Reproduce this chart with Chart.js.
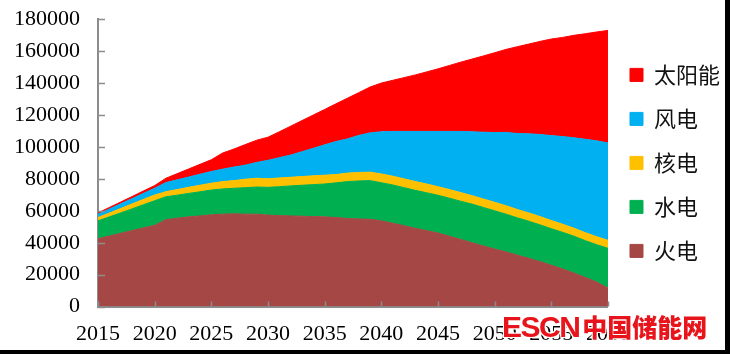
<!DOCTYPE html>
<html>
<head>
<meta charset="utf-8">
<title>发电量结构</title>
<script src="https://cdn.jsdelivr.net/npm/chart.js@4.4.1/dist/chart.umd.min.js"></script>
<style>
  html, body { margin: 0; padding: 0; background: #000; overflow: hidden; }
  #page { position: relative; width: 730px; height: 354px; overflow: hidden; background: #fff; }
  #wrap { position: absolute; left: -4px; top: -12px; width: 734px; height: 373px; }
  #edgeR { position: absolute; left: 725px; top: 0; width: 5px; height: 354px; background: #000; }
  #edgeB { position: absolute; left: 0; top: 350px; width: 730px; height: 4px; background: #000; }
  #mark {
    position: absolute; left: 502px; top: 308px; color: #e8141b; white-space: nowrap;
    text-shadow: 1px 1px 0 #fff, -1px -1px 0 #fff, 1px -1px 0 #fff, -1px 1px 0 #fff;
  }
  #mark .en { font: bold 30px "Liberation Sans", Arial, sans-serif; letter-spacing: -1.5px; }
  #mark .cn { font: 900 25px "Noto Sans CJK SC", sans-serif; margin-left: 3px; }
</style>
</head>
<body>
<div id="page">
  <div id="wrap"><canvas id="mixChart"></canvas></div>
  <div id="mark"><span class="en">ESCN</span><span class="cn">中国储能网</span></div>
  <div id="edgeR"></div>
  <div id="edgeB"></div>
</div>
<script>
const years = [
  2015, 2016, 2017, 2018, 2019, 2020, 2021, 2022, 2023, 2024,
  2025, 2026, 2027, 2028, 2029, 2030, 2031, 2032, 2033, 2034,
  2035, 2036, 2037, 2038, 2039, 2040, 2041, 2042, 2043, 2044,
  2045, 2046, 2047, 2048, 2049, 2050, 2051, 2052, 2053, 2054,
  2055, 2056, 2057, 2058, 2059, 2060
];

// 火电
const thermal = [
  42500, 44200, 45900, 47600, 49300, 50900, 54500, 55400, 56200, 56800,
  57500, 57900, 58100, 57900, 57900, 57300, 57000, 56800, 56600, 56400,
  56200, 55800, 55200, 54900, 54700, 53700, 52200, 50700, 49000, 47600,
  46100, 44100, 42100, 40000, 38000, 36000, 34300, 32200, 30300, 28200,
  25900, 23600, 21000, 18300, 15400, 11600
];
// 水电
const hydro = [
  11200, 12000, 12800, 13600, 14500, 15400, 14300, 14400, 14700, 15100,
  15500, 15800, 16000, 16600, 17000, 17400, 18100, 18800, 19400, 20000,
  20600, 21700, 23100, 23800, 24200, 23900, 24000, 23800, 23800, 23700,
  23600, 23800, 23900, 24200, 24100, 24000, 23600, 23400, 23200, 23000,
  22900, 22900, 23100, 23000, 23400, 24900
];
// 核电
const nuclear = [
  2100, 2400, 2700, 3100, 3300, 3600, 3200, 3500, 3800, 4100,
  4300, 4600, 4800, 5300, 5500, 5300, 5500, 5400, 5500, 5500,
  5500, 5200, 5300, 5300, 5300, 5500, 5500, 5500, 5500, 5500,
  5400, 5400, 5400, 5300, 5300, 5300, 5300, 5200, 5200, 5200,
  5100, 5100, 5000, 5000, 5000, 5000
];
// 风电
const wind = [
  2100, 2500, 3000, 3300, 3800, 4200, 5700, 6100, 6400, 6900,
  7300, 7800, 8500, 8800, 9900, 11600, 12700, 13900, 15500, 17200,
  19000, 20700, 21400, 23200, 24600, 26400, 28000, 29700, 31400, 32900,
  34600, 36400, 38300, 40000, 41800, 43700, 45900, 47600, 49500, 51400,
  53200, 54900, 56600, 58500, 60000, 61000
];
// 太阳能
const solar = [
  800, 1000, 1100, 1300, 1500, 1700, 2700, 3900, 5100, 6200,
  7400, 10100, 11300, 12900, 13900, 14500, 16200, 18100, 19500, 20900,
  22200, 23600, 25500, 26800, 28700, 30500, 32000, 33700, 35400, 37300,
  39200, 41300, 43400, 45500, 47800, 50000, 52000, 54400, 56200, 58300,
  60500, 62100, 64200, 66100, 68200, 70500
];

const yTicks = [0, 20000, 40000, 60000, 80000, 100000, 120000, 140000, 160000, 180000];

const seriesNames = ['火电', '水电', '核电', '风电', '太阳能'];
const seriesColors = ['#a54744', '#00b050', '#ffc000', '#00b0f0', '#ff0000'];
const seriesData = [thermal, hydro, nuclear, wind, solar];

const numFont = { family: '"Liberation Serif", "Times New Roman", serif', size: 22 };
const axisGray = '#8c8c8c';

// short tick marks pointing into the plot, like the source figure
const innerTicks = {
  id: 'innerTicks',
  afterDatasetsDraw(chart) {
    const { ctx, chartArea, scales } = chart;
    ctx.save();
    ctx.strokeStyle = axisGray;
    ctx.lineWidth = 1.5;
    ctx.beginPath();
    scales.y.ticks.forEach(t => {
      const py = Math.round(scales.y.getPixelForValue(t.value)) + 0.5;
      ctx.moveTo(chartArea.left, py);
      ctx.lineTo(chartArea.left + 7, py);
    });
    scales.x.ticks.forEach(t => {
      const px = Math.round(scales.x.getPixelForValue(t.value)) + 0.5;
      ctx.moveTo(px, chartArea.bottom);
      ctx.lineTo(px, chartArea.bottom - 5);
    });
    ctx.stroke();
    ctx.restore();
  }
};

const ctx = document.getElementById('mixChart').getContext('2d');
new Chart(ctx, {
  type: 'line',
  data: {
    datasets: seriesData.map((vals, i) => ({
      label: seriesNames[i],
      data: vals.map((v, j) => ({ x: years[j], y: v })),
      backgroundColor: seriesColors[i],
      borderColor: seriesColors[i],
      borderWidth: 1,
      pointRadius: 0,
      tension: 0,
      fill: i === 0 ? 'origin' : '-1'
    }))
  },
  options: {
    responsive: true,
    maintainAspectRatio: false,
    animation: false,
    layout: { padding: { left: 0, right: 0, top: 0, bottom: 0 } },
    plugins: {
      tooltip: { enabled: false },
      legend: {
        position: 'right',
        fullSize: false,
        reverse: true,
        labels: {
          boxWidth: 13,
          boxHeight: 13,
          padding: 22,
          color: '#111',
          font: { family: '"Noto Sans CJK SC", sans-serif', size: 22 }
        }
      }
    },
    scales: {
      x: {
        type: 'linear',
        min: 2015,
        max: 2060,
        z: 1,
        grid: { display: false, drawTicks: false },
        border: { display: true, color: axisGray, width: 2 },
        ticks: {
          stepSize: 5,
          padding: 14,
          color: '#000',
          font: numFont,
          maxRotation: 0,
          autoSkip: false,
          callback: v => String(v)
        }
      },
      y: {
        stacked: true,
        min: 0,
        max: 180000,
        z: 1,
        afterBuildTicks: scale => { scale.ticks = yTicks.map(v => ({ value: v })); },
        grid: { display: false, drawTicks: false },
        border: { display: true, color: axisGray, width: 2 },
        ticks: {
          padding: 18,
          color: '#000',
          font: numFont,
          autoSkip: false,
          callback: v => String(v)
        }
      }
    }
  },
  plugins: [innerTicks]
});
</script>
</body>
</html>
